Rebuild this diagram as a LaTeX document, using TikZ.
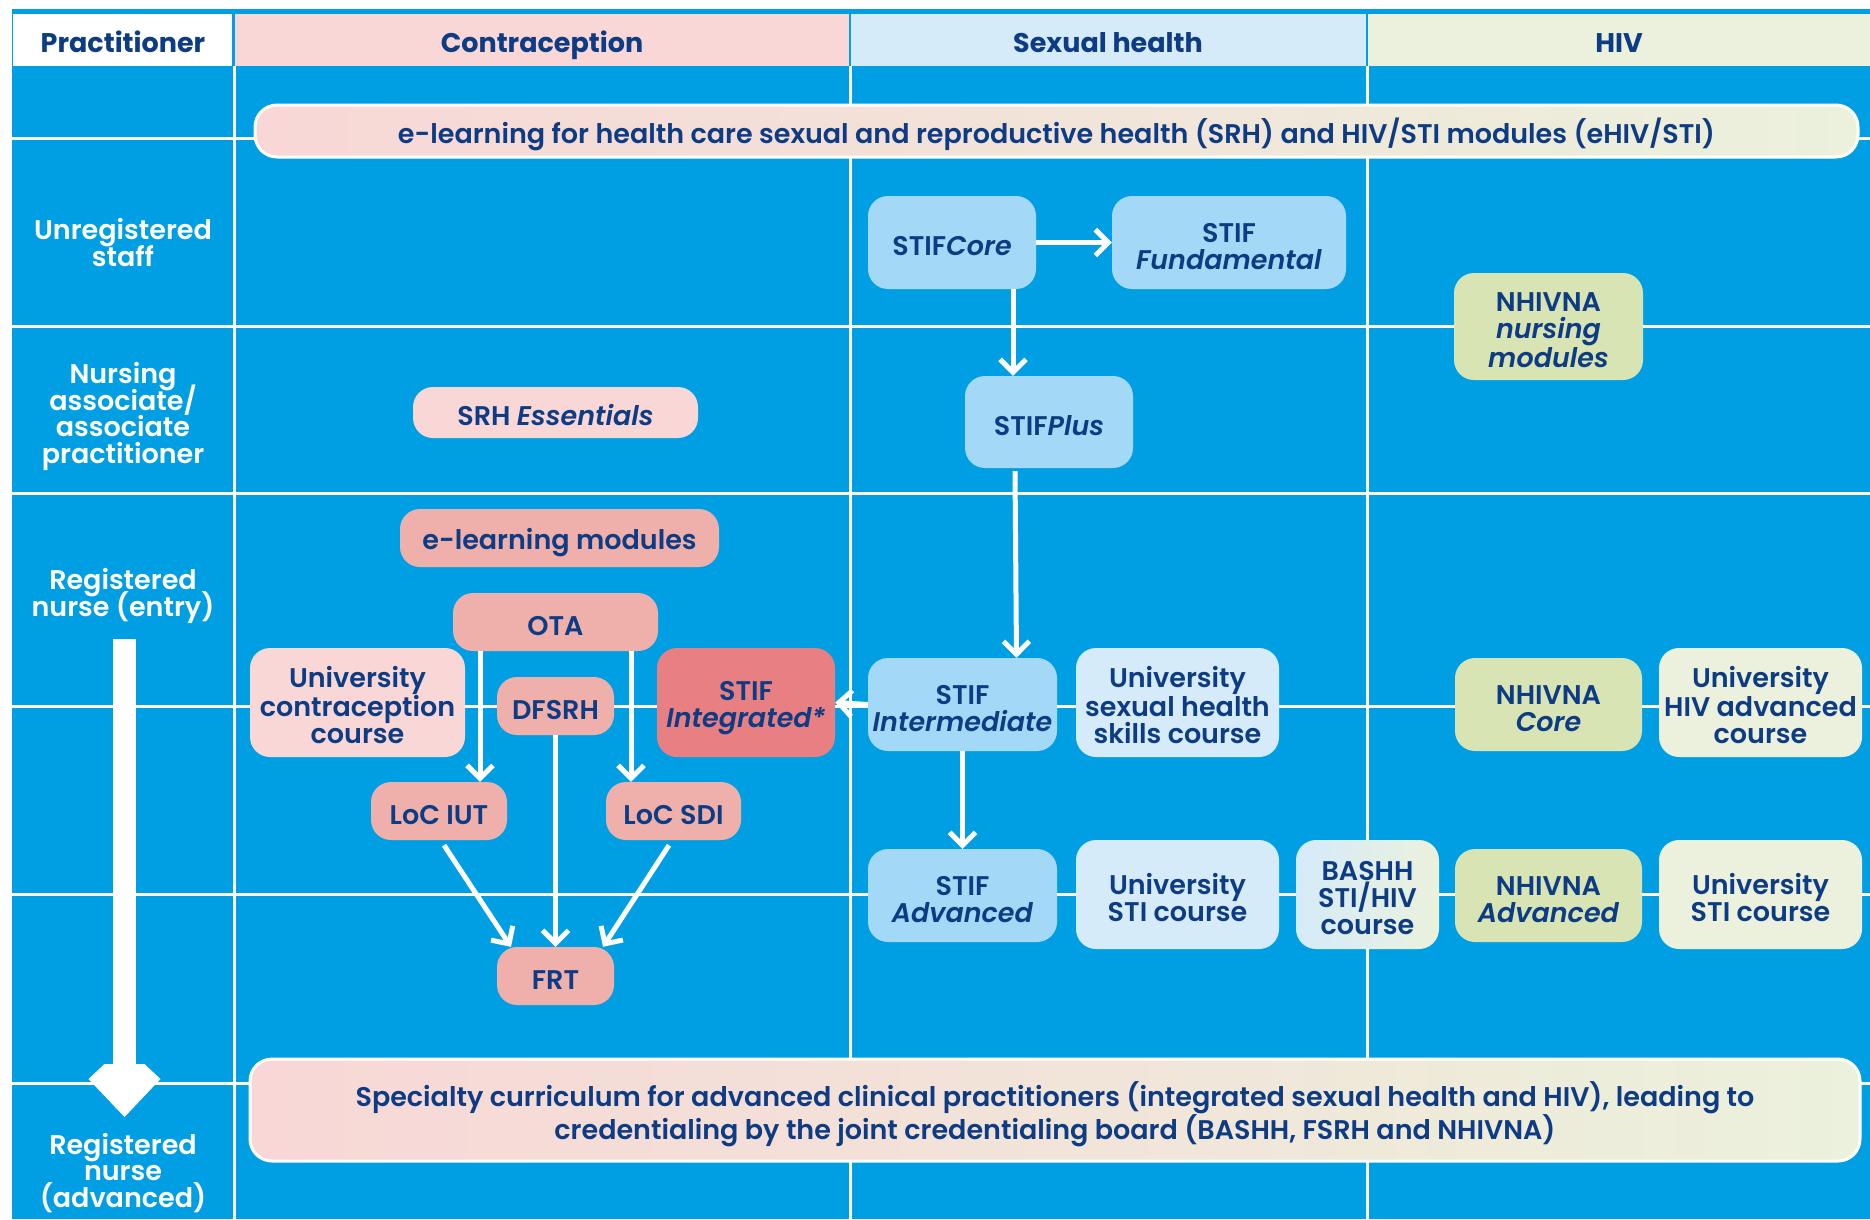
\documentclass[tikz,border=0pt]{standalone}
\usepackage{fontspec}
\setmainfont{Poppins}[UprightFont=* SemiBold, ItalicFont=* SemiBold Italic, BoldFont=* Bold, BoldItalicFont=* Bold Italic]
\usetikzlibrary{arrows.meta,calc}
\definecolor{bgblue}{HTML}{009FE3}
\definecolor{navy}{HTML}{0E3C84}
\definecolor{hpink}{HTML}{F8D7D6}
\definecolor{hblue}{HTML}{D5EBFA}
\definecolor{hgreen}{HTML}{EBF1DC}
\definecolor{stifblue}{HTML}{A3D9F6}
\definecolor{nhgreen}{HTML}{D8E4B4}
\definecolor{salmon}{HTML}{EFAFAA}
\definecolor{redpink}{HTML}{E87F83}
\newcommand\mytopstrut{\rule{0pt}{30pt}}
\newcommand\mybotstrut{\rule[-4pt]{0pt}{4pt}}
\newcommand\bantopstrut{\rule{0pt}{32pt}}
\newcommand\banbtopstrut{\rule{0pt}{33pt}}
\tikzset{
  box/.style={rounded corners=20pt, inner sep=0pt, align=flush center, text=navy,
    font=\fontsize{27}{27}\selectfont,
    execute at begin node=\mytopstrut, execute at end node=\mybotstrut},
  bx/.style n args={2}{minimum width=#1, text width=#1, minimum height=#2},
  flow/.style={draw=white, line width=5pt, -{Straight Barb[length=13pt,width=26pt]}},
  gridline/.style={draw=white, line width=3pt},
  rowlab/.style={text=white, align=center, inner sep=0pt,
    font=\fontsize{27}{26.5}\selectfont},
  headtxt/.style={text=navy, inner sep=0pt, anchor=base, font=\bfseries\fontsize{27}{27}\selectfont},
  banner/.style={rounded corners=22pt, draw=white, line width=3pt, inner sep=0pt, align=flush center,
    text=navy, left color=hpink, middle color=hblue, right color=hgreen,
    execute at end node=\mybotstrut},
}
\begin{document}
\setlength{\lineskiplimit}{-40pt}
\begin{tikzpicture}[x=1pt,y=-1pt]
\useasboundingbox (0,0) rectangle (1870,1219);
\fill[white] (0,0) rectangle (1870,1219);
\fill[bgblue] (12,9) rectangle (1870,1219);
% grid
\foreach \yy in {138,326,493,706,894,1083}
  \draw[gridline] (12,\yy) -- (1870,\yy);
\foreach \xx in {234,850,1367}
  \draw[gridline] (\xx,66) -- (\xx,1219);
% header
\fill[white] (13,14) rectangle (232,66);
\fill[hpink] (235,14) rectangle (849,66);
\fill[hblue] (851,14) rectangle (1366,66);
\fill[hgreen] (1368,14) rectangle (1870,66);
\node[headtxt] (hprac) at (123,52) {Practitioner};
\node[headtxt] (hcon) at (542,52) {Contraception};
\node[headtxt] (hsex) at (1108,52) {Sexual health};
\node[headtxt] (hhiv) at (1619,52) {HIV};
% row labels
\node[rowlab] (r1) at (123,242.5) {Unregistered\\staff};
\node[rowlab] (r2) at (123,416.5) {Nursing\\associate/\\associate\\practitioner};
\node[rowlab] (r3) at (123,596) {Registered\\nurse (entry)};
\node[rowlab] (r4) at (123,1173) {Registered\\nurse\\(advanced)};
% big arrow
\fill[white] (113,639) rectangle (136,1070);
\fill[white] (104.5,1064) -- (144.5,1064) -- (160.5,1079) -- (124.5,1117) -- (88.5,1079) -- cycle;
% banners
\node[banner, minimum width=1603pt, minimum height=52pt, font=\fontsize{27}{27}\selectfont,
  execute at begin node=\bantopstrut]
  (etop) at (1056.5,131) {e-learning for health care sexual and reproductive health (SRH) and HIV/STI modules (eHIV/STI)};
\node[banner, minimum width=1610pt, text width=1610pt, minimum height=102pt, font=\fontsize{27}{30}\selectfont,
  execute at begin node=\banbtopstrut]
  (ebot) at (1055,1110) {Specialty curriculum for advanced clinical practitioners (integrated sexual health and HIV), leading to\\credentialing by the joint credentialing board (BASHH, FSRH and NHIVNA)};
% sexual health nodes
\node[box, fill=stifblue, bx={168pt}{93pt}] (core) at (952,242.5) {STIF\textit{Core}};
\node[box, fill=stifblue, bx={234pt}{93pt}] (fund) at (1229,242.5) {STIF\\\textit{Fundamental}};
\node[box, fill=stifblue, bx={168pt}{92pt}] (plus) at (1049,422) {STIF\textit{Plus}};
\node[box, fill=stifblue, bx={189pt}{93pt}] (inter) at (962.5,704.5) {STIF\\\textit{Intermediate}};
\node[box, fill=stifblue, bx={189pt}{93pt}] (adv) at (962.5,895.5) {STIF\\\textit{Advanced}};
\node[box, fill=hblue, bx={203pt}{109pt}] (ushs) at (1177.5,702.5) {University\\sexual health\\skills course};
\node[box, fill=hblue, bx={203pt}{109pt}] (usti) at (1177.5,894.5) {University\\STI course};
\node[box, left color=hblue, right color=hgreen, bx={143pt}{109pt}] (bashh) at (1367.5,894.5) {BASHH\\STI/HIV\\course};
% HIV nodes
\node[box, fill=nhgreen, bx={189pt}{107pt}] (nhnm) at (1548.5,326.5) {NHIVNA\\\textit{nursing}\\\textit{modules}};
\node[box, fill=nhgreen, bx={187pt}{93pt}] (nhcore) at (1548.5,704.5) {NHIVNA\\\textit{Core}};
\node[box, fill=nhgreen, bx={187pt}{93pt}] (nhadv) at (1548.5,895.5) {NHIVNA\\\textit{Advanced}};
\node[box, fill=hgreen, bx={203pt}{109pt}] (uhiv) at (1760.5,702.5) {University\\HIV advanced\\course};
\node[box, fill=hgreen, bx={203pt}{109pt}] (usti2) at (1760.5,894.5) {University\\STI course};
% contraception nodes
\node[box, fill=hpink, bx={285pt}{51pt}] (srhe) at (555.5,412.5) {SRH \textit{Essentials}};
\node[box, fill=salmon, bx={319pt}{58pt}] (elm) at (559.5,538) {e-learning modules};
\node[box, fill=salmon, bx={205pt}{58pt}] (ota) at (555.5,622) {OTA};
\node[box, fill=hpink, bx={215pt}{109pt}] (ucc) at (357.5,702.5) {University\\contraception\\course};
\node[box, fill=salmon, bx={117pt}{58pt}] (dfsrh) at (555.5,706) {DFSRH};
\node[box, fill=redpink, bx={178pt}{109pt}] (integ) at (746,702.5) {STIF\\\textit{Integrated*}};
\node[box, fill=salmon, bx={136pt}{58pt}] (iut) at (439,811) {LoC IUT};
\node[box, fill=salmon, bx={135pt}{58pt}] (sdi) at (673.5,811) {LoC SDI};
\node[box, fill=salmon, bx={117pt}{58pt}] (frt) at (555.5,976) {FRT};
% arrows
\draw[flow] (core.east) -- (fund.west);
\draw[flow] ([xshift=61pt]core.south) -- ([xshift=-36pt]plus.north);
\draw[flow] ([xshift=-34pt,yshift=-3pt]plus.south) -- ([xshift=54pt]inter.north);
\draw[flow] (inter.west) -- (integ.east);
\draw[flow] (inter.south) -- (adv.north);
\draw[flow] ([xshift=-75.5pt]ota.south) -- ([xshift=41pt]iut.north);
\draw[flow] ([xshift=75.5pt]ota.south) -- ([xshift=-42.5pt]sdi.north);
\draw[flow] (dfsrh.south) -- (frt.north);
\draw[flow] ([xshift=5pt,yshift=-5pt]iut.south) -- ([xshift=-44.5pt]frt.north);
\draw[flow] ([xshift=-4.5pt,yshift=-5pt]sdi.south) -- ([xshift=47.5pt]frt.north);
\end{tikzpicture}
\end{document}
